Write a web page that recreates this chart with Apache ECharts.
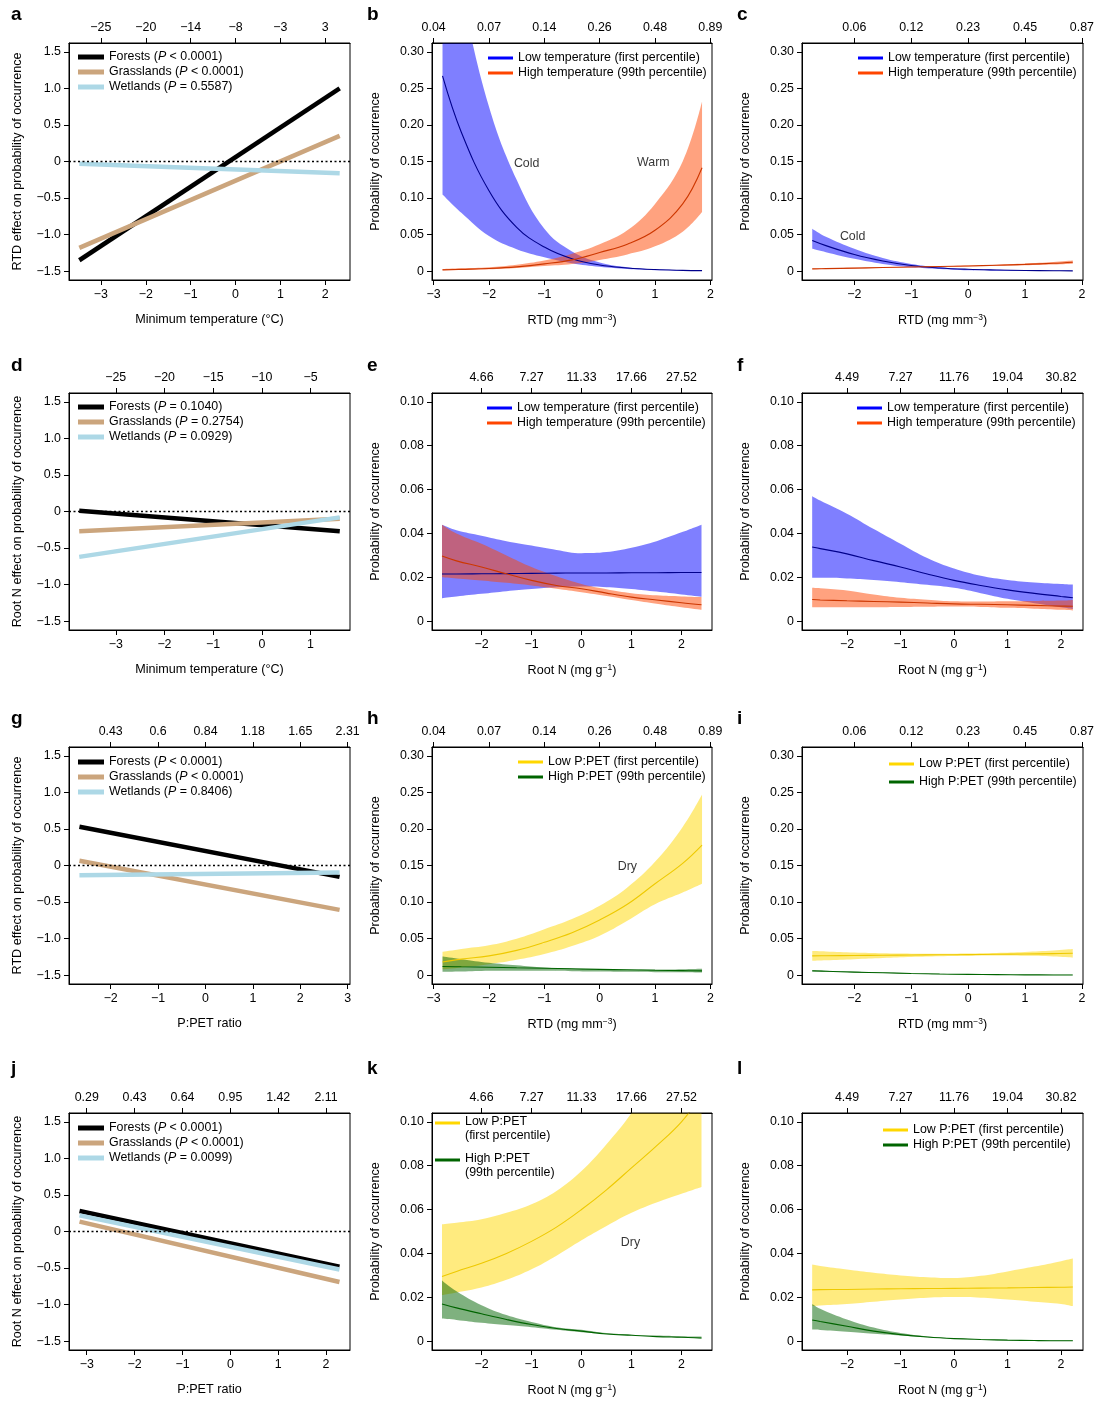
<!DOCTYPE html>
<html>
<head>
<meta charset="utf-8">
<title>RTD and root N effects on probability of occurrence</title>
<script src="https://cdn.jsdelivr.net/npm/echarts@6.0.0/dist/echarts.min.js"></script>
<style>
  html, body { margin: 0; padding: 0; background: #fff; }
  #chart { width: 1097px; height: 1405px; }
</style>
</head>
<body>
<div id="chart"></div>
<script>
// ---------------- values ----------------

// tick label sets
var effectTicks = [-1.5, -1, -0.5, 0, 0.5, 1, 1.5];
var probTicks30 = [0, 0.05, 0.1, 0.15, 0.2, 0.25, 0.3];
var probTicks10 = [0, 0.02, 0.04, 0.06, 0.08, 0.1];

// a: RTD effect vs minimum temperature
var aX = [-3.48, 2.32];
var aForests = [-1.35, 1.0];
var aGrass = [-1.18, 0.35];
var aWet = [-0.03, -0.16];
var aNames = ['Forests (P < 0.0001)', 'Grasslands (P < 0.0001)', 'Wetlands (P = 0.5587)'];
var aTicks = [-3, -2, -1, 0, 1, 2];
var aTopLabels = ['−25', '−20', '−14', '−8', '−3', '3'];

// b: forests, RTD, low/high temperature
var bX = [-2.84, -2.5, -2, -1.5, -1, -0.5, 0, 0.5, 1, 1.5, 1.85];
var bLowMid = [0.267, 0.19, 0.11, 0.06, 0.033, 0.017, 0.0085, 0.0045, 0.0023, 0.0012, 0.0008];
var bLowLo = [0.105, 0.08, 0.048, 0.03, 0.019, 0.011, 0.006, 0.003, 0.0015, 0.0008, 0.0005];
var bLowHi = [0.5, 0.38, 0.225, 0.125, 0.058, 0.027, 0.012, 0.0055, 0.0027, 0.0013, 0.0008];
var bHighMid = [0.0018, 0.0025, 0.0037, 0.006, 0.01, 0.0155, 0.0256, 0.037, 0.056, 0.092, 0.1415];
var bHighLo = [0.0012, 0.0018, 0.0027, 0.0045, 0.0073, 0.01, 0.0155, 0.023, 0.034, 0.054, 0.081];
var bHighHi = [0.003, 0.004, 0.0055, 0.009, 0.0146, 0.024, 0.037, 0.056, 0.092, 0.15, 0.232];
var bTicks = [-3, -2, -1, 0, 1, 2];
var bTopLabels = ['0.04', '0.07', '0.14', '0.26', '0.48', '0.89'];
var bNotes = [{ name: 'Cold', value: [-1.32, 0.147] }, { name: 'Warm', value: [0.97, 0.148] }];

// c: grasslands, RTD, low/high temperature
var cX = [-2.74, -2.5, -2, -1.5, -1, -0.5, 0, 0.5, 1, 1.5, 1.84];
var cLowMid = [0.042, 0.035, 0.0228, 0.014, 0.0078, 0.0045, 0.0027, 0.0017, 0.001, 0.0007, 0.0005];
var cLowLo = [0.0306, 0.026, 0.017, 0.01, 0.0055, 0.003, 0.0012, 0.0006, 0.0003, 0.0002, 0.0001];
var cLowHi = [0.058, 0.047, 0.0306, 0.018, 0.01, 0.0055, 0.003, 0.002, 0.0013, 0.001, 0.0008];
var cHighMid = [0.0032, 0.0035, 0.0042, 0.005, 0.0057, 0.0064, 0.0072, 0.0082, 0.0093, 0.0108, 0.0123];
var cHighLo = [0.0027, 0.003, 0.0037, 0.0046, 0.0053, 0.006, 0.0066, 0.0074, 0.0082, 0.0092, 0.0102];
var cHighHi = [0.0037, 0.004, 0.0046, 0.0053, 0.006, 0.0068, 0.0078, 0.009, 0.0105, 0.0125, 0.0146];
var cTicks = [-2, -1, 0, 1, 2];
var cTopLabels = ['0.06', '0.12', '0.23', '0.45', '0.87'];
var cNotes = [{ name: 'Cold', value: [-2.03, 0.0475] }];

// d: root N effect vs minimum temperature
var dX = [-3.75, 1.6];
var dForests = [0.01, -0.27];
var dGrass = [-0.27, -0.1];
var dWet = [-0.62, -0.08];
var dNames = ['Forests (P = 0.1040)', 'Grasslands (P = 0.2754)', 'Wetlands (P = 0.0929)'];
var dTicks = [-3, -2, -1, 0, 1];
var dTopLabels = ['−25', '−20', '−15', '−10', '−5'];

// e: forests, root N, low/high temperature
var eX = [-2.79, -2.5, -2, -1.5, -1, -0.5, 0, 0.5, 1, 1.5, 2, 2.4];
var eLowMid = [0.0215, 0.0215, 0.0216, 0.0217, 0.0218, 0.0219, 0.022, 0.022, 0.0221, 0.0221, 0.0222, 0.0222];
var eLowLo = [0.0105, 0.0113, 0.0125, 0.0137, 0.0147, 0.0155, 0.0158, 0.0155, 0.0147, 0.0135, 0.0122, 0.0112];
var eLowHi = [0.044, 0.0415, 0.039, 0.0365, 0.0345, 0.0325, 0.031, 0.0315, 0.0335, 0.0365, 0.0405, 0.044];
var eHighMid = [0.0297, 0.0275, 0.0247, 0.0216, 0.0186, 0.0163, 0.0148, 0.0128, 0.011, 0.0097, 0.0084, 0.0075];
var eHighLo = [0.02, 0.0195, 0.0186, 0.0175, 0.0163, 0.0148, 0.0132, 0.0115, 0.0097, 0.008, 0.0064, 0.0052];
var eHighHi = [0.044, 0.04, 0.0353, 0.03, 0.0247, 0.0205, 0.017, 0.0146, 0.0128, 0.0118, 0.0113, 0.011];
var eTicks = [-2, -1, 0, 1, 2];
var eTopLabels = ['4.66', '7.27', '11.33', '17.66', '27.52'];

// f: grasslands, root N, low/high temperature
var fX = [-2.65, -2.5, -2, -1.5, -1, -0.5, 0, 0.5, 1, 1.5, 2, 2.22];
var fLowMid = [0.0338, 0.0331, 0.0307, 0.0276, 0.0247, 0.0215, 0.0186, 0.0163, 0.0143, 0.0127, 0.0113, 0.0107];
var fLowLo = [0.0198, 0.0198, 0.0195, 0.0188, 0.0178, 0.0166, 0.0152, 0.0128, 0.0102, 0.0082, 0.0064, 0.0056];
var fLowHi = [0.057, 0.055, 0.049, 0.042, 0.0353, 0.0288, 0.024, 0.0207, 0.0188, 0.0177, 0.017, 0.0167];
var fHighMid = [0.0099, 0.0097, 0.0093, 0.009, 0.0087, 0.0083, 0.0079, 0.0077, 0.0075, 0.0072, 0.0069, 0.0068];
var fHighLo = [0.0064, 0.0064, 0.0064, 0.0064, 0.0065, 0.0066, 0.0067, 0.0065, 0.0061, 0.0057, 0.0052, 0.0049];
var fHighHi = [0.0152, 0.015, 0.014, 0.0122, 0.0107, 0.0098, 0.0091, 0.009, 0.0091, 0.0092, 0.0094, 0.0097];
var fTicks = [-2, -1, 0, 1, 2];
var fTopLabels = ['4.49', '7.27', '11.76', '19.04', '30.82'];

// g: RTD effect vs P:PET
var gX = [-2.66, 2.83];
var gForests = [0.53, -0.155];
var gGrass = [0.064, -0.607];
var gWet = [-0.132, -0.096];
var gNames = ['Forests (P < 0.0001)', 'Grasslands (P < 0.0001)', 'Wetlands (P = 0.8406)'];
var gTicks = [-2, -1, 0, 1, 2, 3];
var gTopLabels = ['0.43', '0.6', '0.84', '1.18', '1.65', '2.31'];

// h: forests, RTD, low/high P:PET
var hLowMid = [0.018, 0.022, 0.0265, 0.034, 0.045, 0.058, 0.0755, 0.097, 0.125, 0.153, 0.178];
var hLowLo = [0.008, 0.0105, 0.015, 0.021, 0.029, 0.04, 0.054, 0.0745, 0.097, 0.113, 0.125];
var hLowHi = [0.032, 0.036, 0.041, 0.05, 0.063, 0.077, 0.095, 0.12, 0.155, 0.2026, 0.247];
var hHighMid = [0.012, 0.0115, 0.011, 0.0102, 0.0095, 0.0088, 0.008, 0.0074, 0.0068, 0.0063, 0.006];
var hHighLo = [0.0046, 0.005, 0.006, 0.0062, 0.006, 0.0055, 0.005, 0.0046, 0.0042, 0.004, 0.0037];
var hHighHi = [0.0256, 0.022, 0.017, 0.0135, 0.0105, 0.0088, 0.0078, 0.0076, 0.0078, 0.0083, 0.009];
var hNotes = [{ name: 'Dry', value: [0.5, 0.149] }];

// i: grasslands, RTD, low/high P:PET
var iLowMid = [0.0265, 0.0266, 0.027, 0.0273, 0.0276, 0.0279, 0.0282, 0.0286, 0.029, 0.0295, 0.03];
var iLowLo = [0.0197, 0.0205, 0.022, 0.0235, 0.0248, 0.0258, 0.0265, 0.0268, 0.0265, 0.0255, 0.024];
var iLowHi = [0.033, 0.0325, 0.031, 0.03, 0.0295, 0.0295, 0.0298, 0.0305, 0.0318, 0.0337, 0.0357];
var iHighMid = [0.006, 0.0054, 0.0043, 0.0033, 0.0024, 0.0017, 0.0012, 0.0008, 0.0005, 0.0004, 0.0003];
var iHighLo = [0.0053, 0.0047, 0.0038, 0.0029, 0.0021, 0.0014, 0.001, 0.0006, 0.0004, 0.0003, 0.0002];
var iHighHi = [0.0068, 0.0061, 0.0049, 0.0038, 0.0028, 0.002, 0.0014, 0.001, 0.0007, 0.0005, 0.0004];

// j: root N effect vs P:PET
var jX = [-3.15, 2.28];
var jForests = [0.28, -0.48];
var jGrass = [0.135, -0.69];
var jWet = [0.22, -0.52];
var jNames = ['Forests (P < 0.0001)', 'Grasslands (P < 0.0001)', 'Wetlands (P = 0.0099)'];
var jTicks = [-3, -2, -1, 0, 1, 2];
var jTopLabels = ['0.29', '0.43', '0.64', '0.95', '1.42', '2.11'];

// k: forests, root N, low/high P:PET
var kLowMid = [0.0295, 0.0318, 0.0355, 0.04, 0.0455, 0.052, 0.06, 0.069, 0.079, 0.089, 0.1, 0.112];
var kLowLo = [0.021, 0.0222, 0.0245, 0.028, 0.0328, 0.039, 0.046, 0.0525, 0.0585, 0.0632, 0.0672, 0.0703];
var kLowHi = [0.0533, 0.054, 0.0556, 0.0585, 0.0624, 0.0685, 0.0776, 0.0898, 0.104, 0.122, 0.142, 0.16];
var kHighMid = [0.017, 0.0152, 0.0125, 0.0099, 0.0076, 0.0058, 0.0046, 0.0033, 0.0027, 0.0021, 0.0018, 0.0015];
var kHighLo = [0.0103, 0.0097, 0.0084, 0.0074, 0.0064, 0.0052, 0.0041, 0.0033, 0.0027, 0.0022, 0.0017, 0.0012];
var kHighHi = [0.0277, 0.0228, 0.0164, 0.0119, 0.0088, 0.0064, 0.0052, 0.0037, 0.003, 0.0026, 0.0023, 0.0021];
var kNotes = [{ name: 'Dry', value: [0.98, 0.045] }];

// l: grasslands, root N, low/high P:PET
var lLowMid = [0.0234, 0.0235, 0.0236, 0.0238, 0.0239, 0.024, 0.0241, 0.0242, 0.0243, 0.0245, 0.0246, 0.0247];
var lLowLo = [0.016, 0.0163, 0.017, 0.018, 0.019, 0.0198, 0.0201, 0.0198, 0.019, 0.018, 0.017, 0.016];
var lLowHi = [0.035, 0.0343, 0.0327, 0.0312, 0.03, 0.0292, 0.0288, 0.0298, 0.0318, 0.034, 0.0365, 0.0377];
var lHighMid = [0.0097, 0.009, 0.0068, 0.0046, 0.003, 0.0019, 0.0012, 0.0008, 0.0005, 0.0003, 0.0002, 0.0002];
var lHighLo = [0.0053, 0.0051, 0.0043, 0.0034, 0.0026, 0.0018, 0.0011, 0.0007, 0.0004, 0.0002, 0.0001, 0.0001];
var lHighHi = [0.017, 0.0148, 0.0099, 0.0062, 0.0037, 0.0022, 0.0014, 0.0009, 0.0006, 0.0004, 0.0003, 0.0003];

var tempNames = ['Low temperature (first percentile)', 'High temperature (99th percentile)'];
var petNames = ['Low P:PET (first percentile)', 'High P:PET (99th percentile)'];
var petNamesWrapped = ['Low P:PET\n(first percentile)', 'High P:PET\n(99th percentile)'];

// ---------------- layout and styles ----------------
var FONT = '"Liberation Sans", Arial, Helvetica, sans-serif';
var FS = 12.4;
var COL_LEFT = [69, 432, 802];
var COL_WIDTH = [281, 280, 281];
var ROW_TOP = [43, 393, 747, 1113];
var BOX_H = 237;
var LETTER_LEFT = [11, 367, 737];
var LETTER_TOP = [5, 356, 709, 1059];

var HABITAT_COLORS = ['#000000', '#CBA57D', '#ADD8E6'];
var LOW_T = { line: '#00008B', key: '#0000FF', band: 'rgba(0,0,255,0.5)' };
var HIGH_T = { line: '#CD3700', key: '#FF4500', band: 'rgba(255,69,0,0.5)' };
var LOW_P = { line: '#EEC900', key: '#FFD700', band: 'rgba(255,215,0,0.5)' };
var HIGH_P = { line: '#006400', key: '#006400', band: 'rgba(0,100,0,0.5)' };

var X_RTD = 'RTD (mg mm{sup|−3})';
var X_ROOTN = 'Root N (mg g{sup|−1})';
var X_TMIN = 'Minimum temperature (°C)';
var X_PPET = 'P:PET ratio';

function minus(s) { return String(s).replace('-', '−'); }
function pts(xs, ys) { return xs.map(function (x, i) { return [x, ys[i]]; }); }
// value first, x second: the stack then runs on the probability, not on x
function stackPts(xs, ys) { return xs.map(function (x, i) { return [ys[i], x]; }); }
function diff(hi, lo) { return hi.map(function (v, i) { return v - lo[i]; }); }

var nameStyle = {
    color: '#000', fontSize: 12.6, fontFamily: FONT,
    rich: { sup: { color: '#000', fontSize: 8.5, fontFamily: FONT, padding: [0, 0, 7, 0] } }
};
var axisLineStyle = { show: true, onZero: false, lineStyle: { color: '#000', width: 1 } };

var option = {
    animation: false,
    backgroundColor: '#fff',
    title: [], grid: [], xAxis: [], yAxis: [], legend: [], series: []
};

function addFrame(p, yMin, yMax, yTicks, yFmt, yGap) {
    var gi = option.grid.length;
    option.grid.push({
        left: COL_LEFT[p.col], top: ROW_TOP[p.row], width: COL_WIDTH[p.col], height: BOX_H,
        show: true, z: 10, borderColor: '#000', borderWidth: 1, backgroundColor: 'rgba(0,0,0,0)',
        outerBoundsMode: 'none'
    });
    option.title.push({
        text: p.letter, left: LETTER_LEFT[p.col], top: LETTER_TOP[p.row], padding: 0,
        textStyle: { color: '#000', fontSize: 19, fontWeight: 'bold', fontFamily: FONT }
    });
    option.xAxis.push({
        gridIndex: gi, type: 'value', position: 'bottom', min: p.xMin, max: p.xMax,
        name: p.xTitle, nameLocation: 'middle', nameGap: 33, nameTextStyle: nameStyle,
        axisLine: axisLineStyle,
        axisTick: { show: true, customValues: p.ticks, length: 5, lineStyle: { color: '#000' } },
        axisLabel: {
            customValues: p.ticks, margin: 9, color: '#000', fontSize: FS, fontFamily: FONT,
            formatter: function (v) { return minus(v); }
        },
        splitLine: { show: false }
    });
    option.xAxis.push({
        gridIndex: gi, type: 'value', position: 'top', min: p.xMin, max: p.xMax,
        axisLine: axisLineStyle,
        axisTick: { show: true, customValues: p.ticks, length: 5, lineStyle: { color: '#000' } },
        axisLabel: {
            customValues: p.ticks, margin: 9, color: '#000', fontSize: FS, fontFamily: FONT,
            formatter: function (v) {
                for (var i = 0; i < p.ticks.length; i++) {
                    if (Math.abs(p.ticks[i] - v) < 1e-9) return p.topLabels[i];
                }
                return '';
            }
        },
        splitLine: { show: false }
    });
    option.yAxis.push({
        gridIndex: gi, type: 'value', min: yMin, max: yMax,
        name: p.yTitle, nameLocation: 'middle', nameGap: yGap, nameTextStyle: nameStyle,
        axisLine: axisLineStyle,
        axisTick: { show: true, customValues: yTicks, length: 5, lineStyle: { color: '#000' } },
        axisLabel: {
            customValues: yTicks, margin: 8, color: '#000', fontSize: FS, fontFamily: FONT,
            formatter: yFmt
        },
        splitLine: { show: false }
    });
    return { x: 2 * gi, y: gi };
}

function addLegend(p, items, w, h, gap, textPad) {
    option.legend.push({
        orient: 'vertical', left: p.legend[0], top: p.legend[1], padding: 0,
        itemWidth: w, itemHeight: h, itemGap: gap, selectedMode: false,
        textStyle: {
            color: '#000', fontSize: FS, fontFamily: FONT, lineHeight: 14, padding: textPad || 0,
            rich: { it: { color: '#000', fontSize: FS, fontFamily: FONT, fontStyle: 'italic', lineHeight: 14 } }
        },
        formatter: function (name) { return name.replace('(P ', '({it|P} '); },
        data: items.map(function (it) {
            return { name: it.name, icon: 'rect', itemStyle: { color: it.color, borderWidth: 0 } };
        })
    });
}

function effectPanel(p) {
    var ax = addFrame(p, -1.62, 1.62, effectTicks, function (v) {
        return v === 0 ? '0' : minus(v.toFixed(1));
    }, 45);
    var legendItems = [];
    p.lines.forEach(function (ys, k) {
        var s = {
            type: 'line', name: p.names[k], xAxisIndex: ax.x, yAxisIndex: ax.y,
            data: pts(p.x, ys), symbol: 'none', silent: true, z: 3,
            lineStyle: { color: HABITAT_COLORS[k], width: 4.5 },
            itemStyle: { color: HABITAT_COLORS[k] }
        };
        if (k === 0) {
            s.markLine = {
                silent: true, symbol: ['none', 'none'], label: { show: false },
                lineStyle: { color: '#000', type: [2, 2.5], width: 1.4 },
                data: [{ yAxis: 0 }]
            };
        }
        option.series.push(s);
        legendItems.push({ name: p.names[k], color: HABITAT_COLORS[k] });
    });
    addLegend(p, legendItems, 26, 5, 1);
}

function probPanel(p) {
    var ax = addFrame(p, p.yMin, p.yMax, p.yTicks, function (v) {
        return v === 0 ? '0' : v.toFixed(2);
    }, 50);
    var legendItems = [];
    p.groups.forEach(function (g, k) {
        var stackId = p.letter + k;
        option.series.push({
            type: 'line', name: stackId + '-lo', xAxisIndex: ax.x, yAxisIndex: ax.y,
            data: stackPts(p.x, g.lo), encode: { x: 1, y: 0 }, stack: stackId,
            symbol: 'none', silent: true, smooth: 0.4, lineStyle: { width: 0, opacity: 0 }, z: 2
        });
        option.series.push({
            type: 'line', name: stackId + '-band', xAxisIndex: ax.x, yAxisIndex: ax.y,
            data: stackPts(p.x, diff(g.hi, g.lo)), encode: { x: 1, y: 0 }, stack: stackId,
            symbol: 'none', silent: true, smooth: 0.4, lineStyle: { width: 0, opacity: 0 },
            areaStyle: { color: g.style.band, opacity: 1 }, z: 2
        });
        legendItems.push({ name: g.name, color: g.style.key });
    });
    p.groups.forEach(function (g) {
        option.series.push({
            type: 'line', name: g.name, xAxisIndex: ax.x, yAxisIndex: ax.y,
            data: pts(p.x, g.mid), symbol: 'none', silent: true, smooth: 0.4, z: 3,
            lineStyle: { color: g.style.line, width: 1.1 },
            itemStyle: { color: g.style.key }
        });
    });
    if (p.notes) {
        option.series.push({
            type: 'scatter', xAxisIndex: ax.x, yAxisIndex: ax.y, data: p.notes,
            symbolSize: 1, silent: true, z: 4, itemStyle: { color: 'rgba(0,0,0,0)' },
            label: { show: true, position: 'inside', formatter: '{b}', color: '#000', fontSize: FS, fontFamily: FONT }
        });
    }
    if (p.wrapLegend) {
        addLegend(p, legendItems, 25, 3, -3, [12, 0, 0, 0]);
    } else {
        addLegend(p, legendItems, 25, 3, p.legendGap || 1);
    }
}

// ---------------- panels ----------------
effectPanel({ letter: 'a', row: 0, col: 0, xMin: -3.71, xMax: 2.55, ticks: aTicks, topLabels: aTopLabels,
    xTitle: X_TMIN, yTitle: 'RTD effect on probability of occurrence',
    x: aX, lines: [aForests, aGrass, aWet], names: aNames, legend: [78, 50] });

probPanel({ letter: 'b', row: 0, col: 1, xMin: -3.03, xMax: 2.03, ticks: bTicks, topLabels: bTopLabels,
    yMin: -0.012, yMax: 0.312, yTicks: probTicks30, xTitle: X_RTD, yTitle: 'Probability of occurrence',
    x: bX, notes: bNotes, legend: [488, 51],
    groups: [{ name: tempNames[0], style: LOW_T, mid: bLowMid, lo: bLowLo, hi: bLowHi },
             { name: tempNames[1], style: HIGH_T, mid: bHighMid, lo: bHighLo, hi: bHighHi }] });

probPanel({ letter: 'c', row: 0, col: 2, xMin: -2.92, xMax: 2.02, ticks: cTicks, topLabels: cTopLabels,
    yMin: -0.012, yMax: 0.312, yTicks: probTicks30, xTitle: X_RTD, yTitle: 'Probability of occurrence',
    x: cX, notes: cNotes, legend: [858, 51],
    groups: [{ name: tempNames[0], style: LOW_T, mid: cLowMid, lo: cLowLo, hi: cLowHi },
             { name: tempNames[1], style: HIGH_T, mid: cHighMid, lo: cHighLo, hi: cHighHi }] });

effectPanel({ letter: 'd', row: 1, col: 0, xMin: -3.96, xMax: 1.81, ticks: dTicks, topLabels: dTopLabels,
    xTitle: X_TMIN, yTitle: 'Root N effect on probability of occurrence',
    x: dX, lines: [dForests, dGrass, dWet], names: dNames, legend: [78, 400] });

probPanel({ letter: 'e', row: 1, col: 1, xMin: -2.99, xMax: 2.61, ticks: eTicks, topLabels: eTopLabels,
    yMin: -0.004, yMax: 0.104, yTicks: probTicks10, xTitle: X_ROOTN, yTitle: 'Probability of occurrence',
    x: eX, legend: [487, 401],
    groups: [{ name: tempNames[0], style: LOW_T, mid: eLowMid, lo: eLowLo, hi: eLowHi },
             { name: tempNames[1], style: HIGH_T, mid: eHighMid, lo: eHighLo, hi: eHighHi }] });

probPanel({ letter: 'f', row: 1, col: 2, xMin: -2.84, xMax: 2.41, ticks: fTicks, topLabels: fTopLabels,
    yMin: -0.004, yMax: 0.104, yTicks: probTicks10, xTitle: X_ROOTN, yTitle: 'Probability of occurrence',
    x: fX, legend: [857, 401],
    groups: [{ name: tempNames[0], style: LOW_T, mid: fLowMid, lo: fLowLo, hi: fLowHi },
             { name: tempNames[1], style: HIGH_T, mid: fHighMid, lo: fHighLo, hi: fHighHi }] });

effectPanel({ letter: 'g', row: 2, col: 0, xMin: -2.88, xMax: 3.05, ticks: gTicks, topLabels: gTopLabels,
    xTitle: X_PPET, yTitle: 'RTD effect on probability of occurrence',
    x: gX, lines: [gForests, gGrass, gWet], names: gNames, legend: [78, 755] });

probPanel({ letter: 'h', row: 2, col: 1, xMin: -3.03, xMax: 2.03, ticks: bTicks, topLabels: bTopLabels,
    yMin: -0.012, yMax: 0.312, yTicks: probTicks30, xTitle: X_RTD, yTitle: 'Probability of occurrence',
    x: bX, notes: hNotes, legend: [518, 755],
    groups: [{ name: petNames[0], style: LOW_P, mid: hLowMid, lo: hLowLo, hi: hLowHi },
             { name: petNames[1], style: HIGH_P, mid: hHighMid, lo: hHighLo, hi: hHighHi }] });

probPanel({ letter: 'i', row: 2, col: 2, xMin: -2.92, xMax: 2.02, ticks: cTicks, topLabels: cTopLabels,
    yMin: -0.012, yMax: 0.312, yTicks: probTicks30, xTitle: X_RTD, yTitle: 'Probability of occurrence',
    x: cX, legend: [889, 757], legendGap: 4,
    groups: [{ name: petNames[0], style: LOW_P, mid: iLowMid, lo: iLowLo, hi: iLowHi },
             { name: petNames[1], style: HIGH_P, mid: iHighMid, lo: iHighLo, hi: iHighHi }] });

effectPanel({ letter: 'j', row: 3, col: 0, xMin: -3.37, xMax: 2.5, ticks: jTicks, topLabels: jTopLabels,
    xTitle: X_PPET, yTitle: 'Root N effect on probability of occurrence',
    x: jX, lines: [jForests, jGrass, jWet], names: jNames, legend: [78, 1121] });

probPanel({ letter: 'k', row: 3, col: 1, xMin: -2.99, xMax: 2.61, ticks: eTicks, topLabels: eTopLabels,
    yMin: -0.004, yMax: 0.104, yTicks: probTicks10, xTitle: X_ROOTN, yTitle: 'Probability of occurrence',
    x: eX, notes: kNotes, legend: [435, 1103], wrapLegend: true,
    groups: [{ name: petNamesWrapped[0], style: LOW_P, mid: kLowMid, lo: kLowLo, hi: kLowHi },
             { name: petNamesWrapped[1], style: HIGH_P, mid: kHighMid, lo: kHighLo, hi: kHighHi }] });

probPanel({ letter: 'l', row: 3, col: 2, xMin: -2.84, xMax: 2.41, ticks: fTicks, topLabels: fTopLabels,
    yMin: -0.004, yMax: 0.104, yTicks: probTicks10, xTitle: X_ROOTN, yTitle: 'Probability of occurrence',
    x: fX, legend: [883, 1123], legendGap: 0,
    groups: [{ name: petNames[0], style: LOW_P, mid: lLowMid, lo: lLowLo, hi: lLowHi },
             { name: petNames[1], style: HIGH_P, mid: lHighMid, lo: lHighLo, hi: lHighHi }] });

var chart = echarts.init(document.getElementById('chart'));
chart.setOption(option);
window.addEventListener('resize', chart.resize);
</script>
</body>
</html>
